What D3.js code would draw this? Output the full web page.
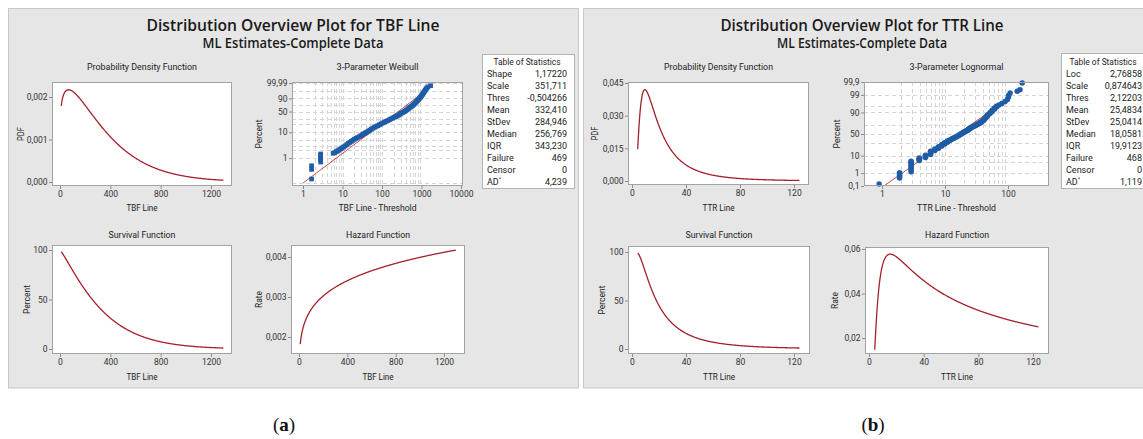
<!DOCTYPE html>
<html>
<head>
<meta charset="utf-8">
<script src="https://cdn.jsdelivr.net/npm/d3@7"></script>
<style>
  body { margin: 0; background: #fff; }
  svg { display: block; }
  text { font-family: Roboto, "Noto Sans", sans-serif; fill: #222; }
  .main-title { font-family: "Open Sans", "Noto Sans", sans-serif; font-weight: 600; fill: #1a1a1a; }
  .tick-label { font-family: Roboto, sans-serif; font-size: 8.5px; fill: #333; }
  .caption { font-family: "Liberation Serif", "DejaVu Serif", serif; fill: #111; }
</style>
</head>
<body>
<svg id="chart" width="1143" height="439"></svg>
<script>
// ---- Statistics tables (ML estimates) ----
const tbfStatLabels = ["Shape", "Scale", "Thres", "Mean", "StDev", "Median", "IQR", "Failure", "Censor", "AD*"];
const tbfStatValues = ["1,17220", "351,711", "-0,504266", "332,410", "284,946", "256,769", "343,230", "469", "0", "4,239"];
const ttrStatLabels = ["Loc", "Scale", "Thres", "Mean", "StDev", "Median", "IQR", "Failure", "Censor", "AD*"];
const ttrStatValues = ["2,76858", "0,874643", "2,12203", "25,4834", "25,0414", "18,0581", "19,9123", "468", "0", "1,119"];

// time span covered by the fitted curves
const tbfRange = [10, 1298];
const ttrRange = [4.2, 124];

// ---- Probability plot points: (time - threshold, percent) ----
const tbfProbTime = [1.65, 1.65, 1.65, 2.8, 2.8, 2.8, 2.8, 2.8, 2.8,
  5.8, 6.4, 7.0, 7.6, 8.3, 9.0, 9.8, 10.7, 11.7, 12.8, 14, 15.3, 16.8, 18.4, 20, 22, 24, 26.5, 29, 32, 35, 38,
  41, 45, 49, 54, 59, 65, 71, 78, 86, 95, 105, 116, 128, 141, 155, 170, 187, 205, 225, 245, 265, 285, 305,
  330, 355, 380, 405, 430, 460, 490, 525, 560, 600, 640, 680, 720, 760, 800, 840, 880, 920, 960, 1000, 1040,
  1080, 1120, 1170, 1230, 1300, 1360, 1450, 1700];
const tbfProbPct = [0.15, 0.36, 0.5, 0.7, 0.85, 1.0, 1.15, 1.3, 1.45,
  1.55, 1.65, 1.8, 1.95, 2.1, 2.3, 2.5, 2.75, 3.0, 3.35, 3.75, 4.1, 4.5, 4.95, 5.4, 5.9, 6.3, 6.8, 7.4, 8.1, 8.8, 9.4,
  10.1, 11.0, 12.0, 13.1, 14.2, 15.3, 16.3, 17.5, 18.9, 20.3, 21.8, 23.3, 24.7, 26.4, 28.2, 30.0, 32.0, 33.8, 35.5, 37.3, 39.6, 42.0, 44.3,
  46.8, 49.0, 50.8, 53.3, 56.0, 59.0, 61.8, 64.5, 67.0, 70.3, 73.5, 76.8, 80.0, 83.0, 85.5, 87.5, 89.5, 91.5, 93.2, 94.6, 95.8,
  96.8, 97.7, 98.5, 99.1, 99.5, 99.72, 99.85, 99.93];

const ttrProbTime = [0.9, 1.9, 1.9, 1.9, 1.9, 1.9,
  2.9, 2.9, 2.9, 2.9, 2.9, 2.9, 2.9, 2.9, 2.9, 3.9, 3.9, 3.9, 3.9, 4.9, 4.9, 4.9, 4.9,
  5.9, 5.9, 5.9, 5.9, 5.9, 6.9, 6.9, 6.9, 7.9, 7.9, 7.9, 8.9, 8.9, 8.9, 9.9, 9.9, 9.9,
  10.9, 10.9, 10.9, 11.9, 11.9, 12.9, 12.9, 13.9, 13.9, 14.9, 14.9, 15.9, 15.9, 16.9, 16.9,
  17.9, 17.9, 18.9, 18.9, 19.9, 19.9, 20.9, 20.9, 21.9, 22.9, 22.9, 23.9, 23.9, 24.9, 24.9, 25.9,
  26.9, 26.9, 28.9, 28.9, 30.9, 30.9, 32.9, 32.9, 34.9, 34.9, 36.9, 36.9, 38.9, 38.9, 40.9, 40.9,
  42.9, 42.9, 44.9, 44.9, 46.9, 46.9, 48.9, 51.9, 51.9, 55.9, 55.9, 60.9, 60.9, 65.9, 65.9,
  71.9, 79.9, 89.9, 97.9, 101.9, 101.9, 107.9, 140, 155, 168];
const ttrProbPct = [0.15, 0.45, 0.6, 0.75, 0.9, 1.05,
  1.25, 1.6, 2.0, 2.5, 3.0, 3.6, 4.2, 4.8, 5.3, 5.8, 6.4, 7.0, 7.6, 8.2, 8.9, 9.6, 10.4,
  11.3, 12.3, 13.3, 14.3, 15.3, 16.3, 17.5, 18.7, 19.9, 21.2, 22.5, 23.8, 25.1, 26.4, 27.6, 28.9, 30.2,
  31.4, 32.6, 33.8, 35.0, 36.3, 37.5, 38.8, 40.0, 41.3, 42.5, 43.7, 44.8, 46.0, 47.0, 48.2,
  49.3, 50.4, 51.5, 52.5, 53.5, 54.5, 55.5, 56.5, 57.5, 58.5, 59.5, 60.5, 61.5, 62.5, 63.7, 64.6,
  65.5, 66.3, 67.5, 68.5, 69.5, 70.5, 71.5, 72.3, 73.2, 74.0, 75.0, 76.0, 77.0, 78.0, 79.0, 80.2,
  81.3, 82.5, 83.6, 84.7, 85.8, 86.8, 87.7, 88.8, 89.8, 91.0, 92.0, 93.0, 93.8, 94.6, 95.1,
  95.7, 96.5, 97.3, 98.0, 98.6, 98.9, 99.25, 99.45, 99.58, 99.88];

// ---- Tick values ----
const tbfTimeTicks = [0, 400, 800, 1200];
const ttrTimeTicks = [0, 40, 80, 120];
const tbfPdfTicks = [0, 0.001, 0.002];
const ttrPdfTicks = [0, 0.015, 0.030, 0.045];
const survivalTicks = [0, 50, 100];
const tbfHazardTicks = [0.002, 0.003, 0.004];
const ttrHazardTicks = [0.02, 0.04, 0.06];
const weibullPctTicks = [1, 10, 50, 90, 99.99];
const lognormPctTicks = [0.1, 1, 10, 50, 90, 99, 99.9];
const tbfProbTimeTicks = [1, 10, 100, 1000, 10000];
const ttrProbTimeTicks = [1, 10, 100];
const weibullPctGrid = [0.1, 1, 2, 3, 5, 10, 20, 30, 50, 70, 90, 99, 99.99];
const lognormPctGrid = [1, 5, 10, 30, 50, 70, 90, 95, 99, 99.9];

// ---------------------------------------------------------------
const svg = d3.select("#chart");
const loc = d3.formatLocale({ decimal: ",", thousands: ".", grouping: [3], currency: ["", ""] });
const f3 = loc.format(".3f"), f2 = loc.format(".2f"), fInt = loc.format("d"), fPct = loc.format(".4~f");
const num = s => parseFloat(s.replace(",", "."));

const CURVE = "#a3212a", POINT = "#1f5ca6", FIT = "#c0393b";

// fitted distribution parameters, taken from the tables
const [wShape, wScale, wThres] = tbfStatValues.slice(0, 3).map(num);
const [lLoc, lScale, lThres] = ttrStatValues.slice(0, 3).map(num);

function normCdf(z) {
  // Abramowitz & Stegun 7.1.26
  const x = Math.abs(z) / Math.SQRT2;
  const t = 1 / (1 + 0.3275911 * x);
  const y = 1 - (((((1.061405429 * t - 1.453152027) * t) + 1.421413741) * t - 0.284496736) * t + 0.254829592) * t * Math.exp(-x * x);
  return z >= 0 ? 0.5 * (1 + y) : 0.5 * (1 - y);
}
function normInv(p) {
  // Acklam's rational approximation
  const a = [-39.69683028665376, 220.9460984245205, -275.9285104469687, 138.3577518672690, -30.66479806614716, 2.506628277459239];
  const b = [-54.47609879822406, 161.5858368580409, -155.6989798598866, 66.80131188771972, -13.28068155288572];
  const c = [-0.007784894002430293, -0.3223964580411365, -2.400758277161838, -2.549732539343734, 4.374664141464968, 2.938163982698783];
  const d = [0.007784695709041462, 0.3224671290700398, 2.445134137142996, 3.754408661907416];
  const pl = 0.02425;
  if (p < pl) {
    const q = Math.sqrt(-2 * Math.log(p));
    return (((((c[0] * q + c[1]) * q + c[2]) * q + c[3]) * q + c[4]) * q + c[5]) / ((((d[0] * q + d[1]) * q + d[2]) * q + d[3]) * q + 1);
  }
  if (p > 1 - pl) {
    const q = Math.sqrt(-2 * Math.log(1 - p));
    return -(((((c[0] * q + c[1]) * q + c[2]) * q + c[3]) * q + c[4]) * q + c[5]) / ((((d[0] * q + d[1]) * q + d[2]) * q + d[3]) * q + 1);
  }
  const q = p - 0.5, r = q * q;
  return (((((a[0] * r + a[1]) * r + a[2]) * r + a[3]) * r + a[4]) * r + a[5]) * q / (((((b[0] * r + b[1]) * r + b[2]) * r + b[3]) * r + b[4]) * r + 1);
}
const weib = pct => Math.log(-Math.log(1 - pct / 100));
const zval = pct => normInv(pct / 100);

function weibullAt(t) {
  const u = (t - wThres) / wScale;
  const S = Math.exp(-Math.pow(u, wShape));
  const f = wShape / wScale * Math.pow(u, wShape - 1) * S;
  return { f, S: S * 100, h: f / S };
}
function lognormAt(t) {
  const u = t - lThres;
  const z = (Math.log(u) - lLoc) / lScale;
  const f = Math.exp(-z * z / 2) / (u * lScale * Math.sqrt(2 * Math.PI));
  const S = 1 - normCdf(z);
  return { f, S: S * 100, h: f / S };
}
const sampleSpan = ([t0, t1], n) => d3.range(n + 1).map(i => t0 + (t1 - t0) * i / n);
const tbfCurve = sampleSpan(tbfRange, 400).map(t => ({ t, ...weibullAt(t) }));
const ttrCurve = sampleSpan(ttrRange, 400).map(t => ({ t, ...lognormAt(t) }));

// ---- helpers ----
function txt(g, x, y, s, size, width, anchor = "middle") {
  const t = g.append("text").attr("x", x).attr("y", y).attr("text-anchor", anchor).attr("font-size", size).text(s);
  if (width) t.attr("textLength", width).attr("lengthAdjust", "spacingAndGlyphs");
  return t;
}
function vtxt(g, cx, cy, s, size, width) {
  const t = g.append("text").attr("transform", `translate(${cx},${cy}) rotate(-90)`)
    .attr("text-anchor", "middle").attr("dy", "0.35em").attr("font-size", size).text(s);
  if (width) t.attr("textLength", width).attr("lengthAdjust", "spacingAndGlyphs");
  return t;
}
let clipN = 0;
function frame(f) {
  const g = svg.append("g");
  const id = "clip" + (clipN++);
  g.append("clipPath").attr("id", id).append("rect")
    .attr("x", f.x0).attr("y", f.y0).attr("width", f.x1 - f.x0).attr("height", f.y1 - f.y0);
  g.append("rect").attr("x", f.x0).attr("y", f.y0).attr("width", f.x1 - f.x0).attr("height", f.y1 - f.y0).attr("fill", "#fff");
  const inner = g.append("g").attr("clip-path", `url(#${id})`);
  return { g, inner, id };
}
function border(g, f) {
  g.append("rect").attr("x", f.x0 + 0.5).attr("y", f.y0 + 0.5).attr("width", f.x1 - f.x0 - 1).attr("height", f.y1 - f.y0 - 1)
    .attr("fill", "none").attr("stroke", "#a3a3a3");
}
function styleAxis(a) {
  a.attr("font-size", null).attr("font-family", null);
  a.select(".domain").remove();
  a.selectAll(".tick line").attr("stroke", "#8c8c8c");
  a.selectAll(".tick text").attr("class", "tick-label");
}
function axes(g, f, x, y, xv, xf, yv, yf) {
  const ax = g.append("g").attr("transform", `translate(0,${f.y1})`)
    .call(d3.axisBottom(x).tickValues(xv).tickFormat(xf).tickSize(3).tickPadding(1.5));
  styleAxis(ax);
  const ay = g.append("g").attr("transform", `translate(${f.x0},0)`)
    .call(d3.axisLeft(y).tickValues(yv).tickFormat(yf).tickSize(3).tickPadding(1.5));
  styleAxis(ay);
}
function curvePlot(cfg) {
  const { f, x, y, data, key } = cfg;
  const p = frame(f);
  p.inner.append("path").datum(data)
    .attr("d", d3.line().x(d => x(d.t)).y(d => y(d[key])))
    .attr("fill", "none").attr("stroke", CURVE).attr("stroke-width", 1.3);
  border(p.g, f);
  axes(p.g, f, x, y, cfg.xTicks, cfg.xFmt, cfg.yTicks, cfg.yFmt);
  const cx = (f.x0 + f.x1) / 2;
  txt(p.g, cx, cfg.titleY, cfg.title, 9.5, cfg.titleW);
  txt(p.g, cx, cfg.xLabelY, cfg.xLabel, 9.5, cfg.xLabelW);
  vtxt(p.g, cfg.yLabelX, (f.y0 + f.y1) / 2, cfg.yLabel, 9.5, cfg.yLabelW);
}
function probPlot(cfg) {
  const { f, x, y, tr } = cfg;
  const p = frame(f);
  // dashed grid
  const [d0, d1] = x.domain();
  const minor = [];
  for (let e = -1; e <= 4; e++) for (let m = 1; m <= 9; m++) {
    const v = m * Math.pow(10, e);
    if (v > d0 && v < d1) minor.push(v);
  }
  p.inner.selectAll(".vg").data(minor).join("line")
    .attr("x1", d => Math.round(x(d)) + 0.5).attr("x2", d => Math.round(x(d)) + 0.5)
    .attr("y1", f.y0).attr("y2", f.y1)
    .attr("stroke", "#d5d5d5").attr("stroke-dasharray", "4,3");
  p.inner.selectAll(".hg").data(cfg.grid).join("line")
    .attr("y1", d => Math.round(y(tr(d))) + 0.5).attr("y2", d => Math.round(y(tr(d))) + 0.5)
    .attr("x1", f.x0).attr("x2", f.x1)
    .attr("stroke", "#d5d5d5").attr("stroke-dasharray", "4,3");
  // fitted line
  const fit = [d0, d1].map(v => [x(v), y(cfg.fitT(v))]);
  p.inner.append("line").attr("x1", fit[0][0]).attr("y1", fit[0][1]).attr("x2", fit[1][0]).attr("y2", fit[1][1])
    .attr("stroke", FIT).attr("stroke-width", 0.9);
  // points
  const pts = cfg.times.map((t, i) => [t, cfg.pcts[i]]);
  p.g.selectAll(".pt").data(pts).join("path")
    .attr("transform", d => `translate(${x(d[0])},${y(tr(d[1]))})`)
    .attr("d", d3.symbol(cfg.symbol, cfg.symbolSize))
    .attr("fill", POINT);
  border(p.g, f);
  const yt = cfg.yTicks.map(tr);
  axes(p.g, f, x, y, cfg.xTicks, fInt, yt, (d, i) => fPct(cfg.yTicks[i]));
  const cx = (f.x0 + f.x1) / 2;
  txt(p.g, cx, cfg.titleY, cfg.title, 9.5, cfg.titleW);
  txt(p.g, cx, cfg.xLabelY, cfg.xLabel, 9.5, cfg.xLabelW);
  vtxt(p.g, cfg.yLabelX, (f.y0 + f.y1) / 2, "Percent", 9.5, 29);
}
function statsTable(b, labels, values, labelX, valueX) {
  const g = svg.append("g");
  g.append("rect").attr("x", b.x0 + 0.5).attr("y", b.y0 + 0.5).attr("width", b.x1 - b.x0).attr("height", b.y1 - b.y0)
    .attr("fill", "#fff").attr("stroke", "#b4b4b4");
  txt(g, b.tx, 64.7, "Table of Statistics", 9, 67);
  labels.forEach((l, i) => {
    const yy = 77 + i * 11.95;
    const t = txt(g, labelX, yy, l.replace("*", ""), 9, null, "start");
    if (l.endsWith("*")) t.append("tspan").attr("font-size", 5.5).attr("dy", -3.5).text("*");
    txt(g, valueX, yy, values[i], 9, null, "end");
  });
}
function panelBox(x0, x1, cx, title, titleW, sub, subW) {
  svg.append("rect").attr("x", x0 + 0.5).attr("y", 8.5).attr("width", x1 - x0).attr("height", 379.5)
    .attr("fill", "#e6e6e6").attr("stroke", "#c8c8c8");
  txt(svg, cx, 31, title, 17, titleW).attr("class", "main-title");
  txt(svg, cx, 48, sub, 13.5, subW).attr("class", "main-title");
}

// ---- Panel (a): TBF, 3-parameter Weibull ----
panelBox(8, 578, 293, "Distribution Overview Plot for TBF Line", 293, "ML Estimates-Complete Data", 181);

curvePlot({
  f: { x0: 52, y0: 82, x1: 232, y1: 186 },
  x: d3.scaleLinear().domain([0, 1200]).range([60, 211]),
  y: d3.scaleLinear().domain([0, 0.002]).range([182, 97]),
  data: tbfCurve, key: "f",
  xTicks: tbfTimeTicks, xFmt: fInt, yTicks: tbfPdfTicks, yFmt: f3,
  title: "Probability Density Function", titleW: 110, titleY: 69.5,
  xLabel: "TBF Line", xLabelW: 31, xLabelY: 210.5, yLabel: "PDF", yLabelX: 21, yLabelW: 14
});
probPlot({
  f: { x0: 292, y0: 82, x1: 463, y1: 186 },
  x: d3.scaleLog().domain([1, 1000]).range([303, 421.5]),
  y: d3.scaleLinear().domain([0, 1]).range([107.5, 96.5]),
  tr: weib,
  fitT: v => wShape * (Math.log(v) - Math.log(wScale)),
  grid: weibullPctGrid, times: tbfProbTime, pcts: tbfProbPct,
  symbol: d3.symbolSquare, symbolSize: 22,
  xTicks: tbfProbTimeTicks, yTicks: weibullPctTicks,
  title: "3-Parameter Weibull", titleW: 82, titleY: 69.5,
  xLabel: "TBF Line - Threshold", xLabelW: 78, xLabelY: 210.5, yLabelX: 259
});
curvePlot({
  f: { x0: 52, y0: 245, x1: 232, y1: 354 },
  x: d3.scaleLinear().domain([0, 1200]).range([60, 211]),
  y: d3.scaleLinear().domain([0, 100]).range([349, 250]),
  data: tbfCurve, key: "S",
  xTicks: tbfTimeTicks, xFmt: fInt, yTicks: survivalTicks, yFmt: fInt,
  title: "Survival Function", titleW: 67, titleY: 237.5,
  xLabel: "TBF Line", xLabelW: 31, xLabelY: 379.5, yLabel: "Percent", yLabelX: 27, yLabelW: 29
});
curvePlot({
  f: { x0: 291, y0: 245, x1: 465, y1: 354 },
  x: d3.scaleLinear().domain([0, 1200]).range([299, 444]),
  y: d3.scaleLinear().domain([0.002, 0.004]).range([337, 257]),
  data: tbfCurve, key: "h",
  xTicks: tbfTimeTicks, xFmt: fInt, yTicks: tbfHazardTicks, yFmt: f3,
  title: "Hazard Function", titleW: 64, titleY: 237.5,
  xLabel: "TBF Line", xLabelW: 31, xLabelY: 379.5, yLabel: "Rate", yLabelX: 259, yLabelW: 17
});
statsTable({ x0: 482, y0: 54, x1: 574, y1: 188, tx: 527 }, tbfStatLabels, tbfStatValues, 487, 567);

// ---- Panel (b): TTR, 3-parameter Lognormal ----
panelBox(583, 1160, 862, "Distribution Overview Plot for TTR Line", 283, "ML Estimates-Complete Data", 170);

curvePlot({
  f: { x0: 628, y0: 82, x1: 809, y1: 185 },
  x: d3.scaleLinear().domain([0, 120]).range([632, 794]),
  y: d3.scaleLinear().domain([0, 0.045]).range([181, 83]),
  data: ttrCurve, key: "f",
  xTicks: ttrTimeTicks, xFmt: fInt, yTicks: ttrPdfTicks, yFmt: f3,
  title: "Probability Density Function", titleW: 109, titleY: 69.5,
  xLabel: "TTR Line", xLabelW: 32, xLabelY: 210.5, yLabel: "PDF", yLabelX: 595, yLabelW: 14
});
probPlot({
  f: { x0: 864, y0: 82, x1: 1049, y1: 186 },
  x: d3.scaleLog().domain([1, 100]).range([882, 1008]),
  y: d3.scaleLinear().domain([0, 1]).range([134, 117.17]),
  tr: zval,
  fitT: v => (Math.log(v) - lLoc) / lScale,
  grid: lognormPctGrid, times: ttrProbTime, pcts: ttrProbPct,
  symbol: d3.symbolCircle, symbolSize: 24,
  xTicks: ttrProbTimeTicks, yTicks: lognormPctTicks,
  title: "3-Parameter Lognormal", titleW: 94, titleY: 69.5,
  xLabel: "TTR Line - Threshold", xLabelW: 79, xLabelY: 210.5, yLabelX: 837
});
curvePlot({
  f: { x0: 628, y0: 246, x1: 810, y1: 354 },
  x: d3.scaleLinear().domain([0, 120]).range([632, 794]),
  y: d3.scaleLinear().domain([0, 100]).range([349, 252]),
  data: ttrCurve, key: "S",
  xTicks: ttrTimeTicks, xFmt: fInt, yTicks: survivalTicks, yFmt: fInt,
  title: "Survival Function", titleW: 67, titleY: 237.5,
  xLabel: "TTR Line", xLabelW: 32, xLabelY: 379.5, yLabel: "Percent", yLabelX: 602, yLabelW: 29
});
curvePlot({
  f: { x0: 865, y0: 247, x1: 1049, y1: 354 },
  x: d3.scaleLinear().domain([0, 120]).range([869, 1033]),
  y: d3.scaleLinear().domain([0.02, 0.06]).range([338, 249]),
  data: ttrCurve, key: "h",
  xTicks: ttrTimeTicks, xFmt: fInt, yTicks: ttrHazardTicks, yFmt: f2,
  title: "Hazard Function", titleW: 64, titleY: 237.5,
  xLabel: "TTR Line", xLabelW: 32, xLabelY: 379.5, yLabel: "Rate", yLabelX: 835, yLabelW: 17
});
statsTable({ x0: 1061, y0: 53, x1: 1160, y1: 188, tx: 1103 }, ttrStatLabels, ttrStatValues, 1066, 1142);

// ---- Sub-figure captions ----
[["a", 284], ["b", 873]].forEach(([s, cx]) => {
  const t = svg.append("text").attr("class", "caption").attr("x", cx).attr("y", 431)
    .attr("text-anchor", "middle").attr("font-size", 19);
  t.append("tspan").text("(");
  t.append("tspan").attr("font-weight", "bold").text(s);
  t.append("tspan").text(")");
});
</script>
</body>
</html>
